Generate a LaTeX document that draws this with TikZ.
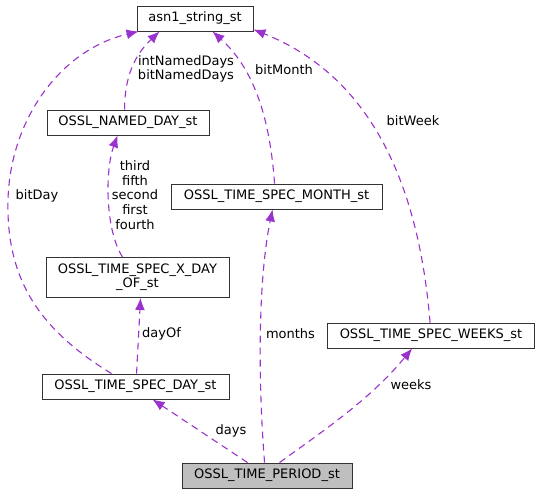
\documentclass[tikz,border=0pt]{standalone}
\usepackage{fontspec}
\setmainfont{DejaVu Sans}
\usetikzlibrary{arrows.meta,calc}
\definecolor{edgec}{HTML}{9A32CD}
\definecolor{boxgray}{HTML}{BFBFBF}
\begin{document}
\begin{tikzpicture}[x=1pt,y=-1pt,
 cls/.style={draw=black!80,line width=0.9pt,fill=white,inner sep=0pt,align=center,minimum height=25pt,font=\fontsize{13}{14.4}\selectfont},
 edge/.style={draw=edgec,line width=1.1pt,dash pattern=on 7pt off 5pt,-{Latex[length=12pt,width=10pt]}},
 lbl/.style={align=center,inner sep=0pt,font=\fontsize{13}{14.6}\selectfont}]
\useasboundingbox[fill=white] (0,0) rectangle (540,495);
\node[cls,minimum width=116pt] (asn1) at (195,18.5) {asn1\_string\_st};
\node[cls,minimum width=162pt] (named) at (128,122.5) {OSSL\_NAMED\_DAY\_st};
\node[cls,minimum width=211pt] (month) at (276.5,196.5) {OSSL\_TIME\_SPEC\_MONTH\_st};
\node[cls,minimum width=183pt,minimum height=40pt] (xday) at (137.5,277.5) {OSSL\_TIME\_SPEC\_X\_DAY\\\_OF\_st};
\node[cls,minimum width=187pt] (day) at (135.5,386.5) {OSSL\_TIME\_SPEC\_DAY\_st};
\node[cls,minimum width=170pt,fill=boxgray] (period) at (267,475.5) {OSSL\_TIME\_PERIOD\_st};
\node[cls,minimum width=207pt] (weeks) at (431,335.5) {OSSL\_TIME\_SPEC\_WEEKS\_st};

% named -> asn1
\draw[edge] ($(named.north west)+(78,0)$) .. controls ($(named.north west)+(78,-40)$) and (140,50) .. ($(asn1.south west)+(23,0)$);
% xday -> named
\draw[edge] ($(xday.north west)+(77,0)$) .. controls (105,230) and (105,170) .. ($(named.south west)+(71,0)$);
% day -> asn1 (bitDay)
\coordinate (bd) at (8,200);
\draw[edge] ($(day.north west)+(70,0)$) .. controls (40,330) and (6,280) .. (bd) .. controls (10,120) and (60,50) .. ($(asn1.south west)+(2,0)$);
% day -> xday
\draw[edge] ($(day.north west)+(95,0)$) -- ($(xday.south west)+(95,0)$);
% month -> asn1
\draw[edge] ($(month.north west)+(104,0)$) .. controls (270,120) and (255,70) .. ($(asn1.south west)+(76,0)$);
% weeks -> asn1
\draw[edge] ($(weeks.north west)+(103,0)$) .. controls (420,200) and (380,80) .. ($(asn1.east)+(0,11)$);
% period -> day
\draw[edge] ($(period.north west)+(66,0)$) -- ($(day.south west)+(111,0)$);
% period -> month
\draw[edge] ($(period.north west)+(83,0)$) .. controls (258,380) and (258,280) .. ($(month.south west)+(102,0)$);
% period -> weeks
\draw[edge] ($(period.north west)+(98,0)$) .. controls (320,433) and (370,400) .. ($(weeks.south west)+(85,0)$);

\node[lbl] (l1) at (186,69) {intNamedDays\\bitNamedDays};
\node[lbl] (l2) at (135,195) {third\\fifth\\second\\first\\fourth};
\node[lbl] (l3) at (37,196) {bitDay};
\node[lbl] (l4) at (284,70) {bitMonth};
\node[lbl] (l5) at (413,121) {bitWeek};
\node[lbl] (l6) at (161.5,334) {dayOf};
\node[lbl] (l7) at (231,431) {days};
\node[lbl] (l8) at (290.5,334) {months};
\node[lbl] (l9) at (411,385) {weeks};
\end{tikzpicture}
\end{document}
